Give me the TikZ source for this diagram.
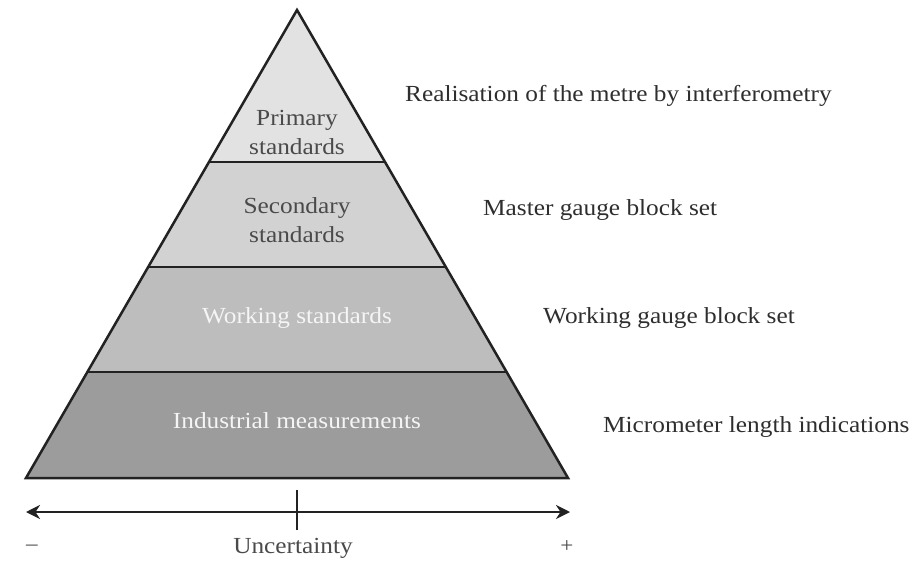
\documentclass[tikz,border=0pt]{standalone}
\usepackage{fontspec}
\setmainfont{Liberation Serif}[FakeStretch=1.1]
\usetikzlibrary{arrows.meta}
\definecolor{lvA}{HTML}{E2E2E2}
\definecolor{lvB}{HTML}{D2D2D2}
\definecolor{lvC}{HTML}{BDBDBD}
\definecolor{lvD}{HTML}{9C9C9C}
\definecolor{ink}{HTML}{222222}
\definecolor{dtext}{HTML}{4A4A4A}
\definecolor{stext}{HTML}{2E2E2E}
\begin{document}
\begin{tikzpicture}[x=1pt,y=-1pt,
  outline/.style={draw=ink,line width=2.5pt,line join=miter},
  intext/.style={font=\fontsize{23}{29}\selectfont,align=center,inner sep=0pt},
  sidetext/.style={font=\fontsize{23}{28}\selectfont,text=stext,anchor=west,inner sep=0pt}]
\useasboundingbox[fill=white] (0,0) rectangle (923,567);
\coordinate (apex) at (297,10);
\coordinate (L1) at (209,162); \coordinate (R1) at (385,162);
\coordinate (L2) at (148,267); \coordinate (R2) at (446,267);
\coordinate (L3) at (87,372);  \coordinate (R3) at (507,372);
\coordinate (BL) at (26,478);  \coordinate (BR) at (568,478);
\fill[lvA] (apex) -- (R1) -- (L1) -- cycle;
\fill[lvB] (L1) -- (R1) -- (R2) -- (L2) -- cycle;
\fill[lvC] (L2) -- (R2) -- (R3) -- (L3) -- cycle;
\fill[lvD] (L3) -- (R3) -- (BR) -- (BL) -- cycle;
\draw[outline] (apex) -- (BR) -- (BL) -- cycle;
\draw[outline] (L1) -- (R1);
\draw[outline] (L2) -- (R2);
\draw[outline] (L3) -- (R3);
\node[intext,text=dtext] (prim) at (297,132) {Primary\\standards};
\node[intext,text=dtext] (sec) at (297,220) {Secondary\\standards};
\node[intext,text=white!92!gray] (work) at (297,318) {Working standards};
\node[intext,text=white!92!gray] (ind) at (297,421) {Industrial measurements};
\node[sidetext] (s1) at (405,96) {Realisation of the metre by interferometry};
\node[sidetext] (s2) at (483,210) {Master gauge block set};
\node[sidetext] (s3) at (543,318) {Working gauge block set};
\node[sidetext] (s4) at (603,427) {Micrometer length indications};
\coordinate (aL) at (26,512);
\coordinate (aR) at (570,512);
\coordinate (tT) at (297,490);
\coordinate (tB) at (297,530);
\draw[draw=ink,line width=2.5pt,{Stealth[length=14pt,width=14pt]}-{Stealth[length=14pt,width=14pt]}] (aL) -- (aR);
\draw[draw=ink,line width=2.5pt] (tT) -- (tB);
\node[font=\fontsize{23}{28}\selectfont,text=dtext] (unc) at (293,548) {Uncertainty};
\node[font=\fontsize{21}{24}\selectfont,text=dtext] (minus) at (32,548) {--};
\node[font=\fontsize{21}{24}\selectfont,text=dtext] (plus) at (567,547) {+};
\end{tikzpicture}
\end{document}
